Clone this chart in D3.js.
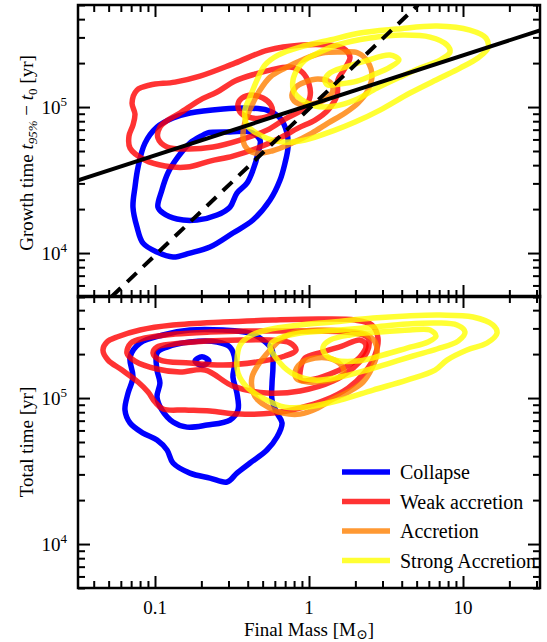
<!DOCTYPE html>
<html>
<head>
<meta charset="utf-8">
<script src="https://cdn.jsdelivr.net/npm/d3@7"></script>
<style>
  body { margin: 0; background: #fff; }
  text { font-family: "Liberation Serif", "DejaVu Serif", serif; fill: #000; }
</style>
</head>
<body>
<div id="chart"></div>
<script>
// categories of the legend
const categories = ["Collapse", "Weak accretion", "Accretion", "Strong Accretion"];

// contour vertices, as [log10(M / Msun), log10(t / yr)]
// top panel : growth time t95% - t0
const collapseGrowth = [
  [[-1.065,4.753],[-0.987,4.863],[-0.883,4.925],[-0.773,4.959],[-0.558,4.986],[-0.403,4.993],[-0.273,4.979],[-0.188,4.925],[-0.143,4.822],[-0.136,4.726],[-0.156,4.616],[-0.188,4.5],[-0.253,4.363],[-0.364,4.226],[-0.494,4.137],[-0.643,4.041],[-0.773,4.0],[-0.883,3.973],[-0.987,4.007],[-1.078,4.068],[-1.117,4.178],[-1.143,4.315],[-1.13,4.452],[-1.11,4.589]],
  [[-0.662,4.822],[-0.513,4.829],[-0.383,4.829],[-0.318,4.774],[-0.331,4.685],[-0.364,4.568],[-0.403,4.479],[-0.468,4.411],[-0.513,4.315],[-0.597,4.26],[-0.727,4.226],[-0.857,4.233],[-0.948,4.274],[-0.981,4.315],[-0.955,4.432],[-0.916,4.548],[-0.851,4.658],[-0.773,4.753],[-0.688,4.808]]
];
const weakGrowth = [
  [[-1.149,5.027],[-1.117,5.116],[-1.032,5.151],[-0.87,5.171],[-0.708,5.212],[-0.481,5.301],[-0.266,5.39],[-0.045,5.425],[0.123,5.425],[0.221,5.404],[0.266,5.342],[0.234,5.267],[0.188,5.185],[0.182,5.082],[0.123,4.979],[0.039,4.911],[-0.071,4.856],[-0.188,4.788],[-0.318,4.726],[-0.494,4.664],[-0.643,4.63],[-0.792,4.589],[-0.935,4.596],[-1.065,4.637],[-1.162,4.719],[-1.169,4.801],[-1.143,4.877],[-1.13,4.952]],
  [[-0.981,4.788],[-0.968,4.863],[-0.916,4.911],[-0.838,4.959],[-0.708,5.048],[-0.597,5.103],[-0.481,5.178],[-0.351,5.226],[-0.253,5.253],[-0.123,5.274],[-0.045,5.24],[0.0,5.158],[0.006,5.068],[-0.039,4.986],[-0.156,4.918],[-0.273,4.842],[-0.448,4.774],[-0.623,4.726],[-0.792,4.712],[-0.922,4.726]],
  [[-0.461,5.021],[-0.435,5.062],[-0.37,5.082],[-0.299,5.062],[-0.247,5.014],[-0.24,4.959],[-0.305,4.925],[-0.396,4.932],[-0.448,4.966]]
];
const accretionGrowth = [
  [[-0.429,4.808],[-0.416,4.897],[-0.37,5.014],[-0.318,5.116],[-0.253,5.205],[-0.156,5.267],[-0.045,5.322],[0.084,5.37],[0.214,5.377],[0.318,5.37],[0.383,5.308],[0.409,5.212],[0.383,5.116],[0.318,5.027],[0.234,4.959],[0.123,4.89],[0.019,4.822],[-0.11,4.753],[-0.24,4.699],[-0.351,4.685],[-0.416,4.733]],
  [[-0.11,5.068],[-0.084,5.137],[-0.026,5.171],[0.058,5.192],[0.136,5.171],[0.156,5.116],[0.11,5.055],[0.019,5.021],[-0.065,5.021]]
];
const strongGrowth = [
  [[-0.416,4.979],[-0.383,5.068],[-0.338,5.185],[-0.286,5.288],[-0.201,5.356],[-0.058,5.411],[0.136,5.459],[0.331,5.507],[0.571,5.534],[0.831,5.555],[1.045,5.527],[1.149,5.473],[1.162,5.404],[1.097,5.336],[0.981,5.267],[0.851,5.199],[0.656,5.096],[0.461,4.979],[0.299,4.897],[0.169,4.842],[-0.026,4.774],[-0.169,4.76],[-0.305,4.801],[-0.403,4.877]],
  [[-0.104,5.185],[-0.071,5.267],[-0.026,5.322],[0.071,5.377],[0.182,5.425],[0.396,5.473],[0.61,5.493],[0.786,5.479],[0.896,5.425],[0.916,5.377],[0.851,5.322],[0.721,5.267],[0.591,5.205],[0.442,5.13],[0.299,5.048],[0.169,5.007],[0.039,5.007],[-0.045,5.048],[-0.097,5.103]],
  [[0.104,5.185],[0.136,5.233],[0.234,5.274],[0.364,5.315],[0.526,5.356],[0.584,5.322],[0.526,5.274],[0.429,5.226],[0.312,5.178],[0.201,5.158],[0.123,5.151]]
];

// bottom panel : total time
const collapseTotal = [
  [[-1.097,5.377],[-1.162,5.281],[-1.143,5.144],[-1.175,5.034],[-1.195,4.918],[-1.162,4.829],[-1.078,4.76],[-0.987,4.712],[-0.922,4.644],[-0.883,4.555],[-0.773,4.486],[-0.643,4.452],[-0.532,4.425],[-0.468,4.486],[-0.383,4.555],[-0.273,4.644],[-0.208,4.733],[-0.175,4.829],[-0.208,4.897],[-0.24,4.986],[-0.24,5.103],[-0.234,5.212],[-0.24,5.329],[-0.299,5.397],[-0.383,5.445],[-0.558,5.466],[-0.773,5.466],[-0.948,5.432]],
  [[-0.987,5.308],[-0.922,5.349],[-0.773,5.384],[-0.597,5.384],[-0.513,5.349],[-0.481,5.26],[-0.494,5.144],[-0.468,5.034],[-0.461,4.918],[-0.513,4.849],[-0.662,4.815],[-0.792,4.801],[-0.883,4.836],[-0.955,4.918],[-0.987,5.007],[-0.968,5.103],[-0.987,5.192]],
  [[-0.74,5.253],[-0.695,5.283],[-0.65,5.253],[-0.695,5.223]]
];
const weakTotal = [
  [[-1.338,5.329],[-1.312,5.384],[-1.247,5.418],[-1.097,5.466],[-0.883,5.5],[-0.558,5.521],[-0.234,5.534],[0.071,5.541],[0.299,5.534],[0.409,5.5],[0.448,5.411],[0.429,5.295],[0.364,5.178],[0.253,5.068],[0.104,4.986],[-0.058,4.932],[-0.234,4.897],[-0.448,4.89],[-0.643,4.911],[-0.805,4.918],[-0.948,4.925],[-1.0,4.973],[-1.045,5.041],[-1.11,5.11],[-1.214,5.192],[-1.305,5.26]],
  [[-1.182,5.308],[-1.156,5.377],[-1.065,5.411],[-0.87,5.438],[-0.643,5.452],[-0.416,5.459],[-0.188,5.459],[0.071,5.459],[0.299,5.445],[0.383,5.411],[0.377,5.315],[0.286,5.205],[0.156,5.116],[-0.058,5.048],[-0.273,5.034],[-0.494,5.082],[-0.675,5.192],[-0.838,5.178],[-0.987,5.199],[-1.13,5.253]],
  [[-1.013,5.308],[-0.987,5.349],[-0.883,5.37],[-0.662,5.39],[-0.448,5.397],[-0.253,5.397],[-0.123,5.377],[-0.084,5.329],[-0.156,5.288],[-0.338,5.247],[-0.558,5.226],[-0.773,5.24],[-0.968,5.26]],
  [[-0.058,5.178],[-0.026,5.274],[0.084,5.315],[0.214,5.356],[0.331,5.397],[0.37,5.363],[0.331,5.281],[0.234,5.212],[0.136,5.164],[0.006,5.123],[-0.052,5.123]]
];
const accretionTotal = [
  [[-0.364,5.041],[-0.37,5.144],[-0.331,5.226],[-0.253,5.329],[-0.188,5.397],[-0.11,5.445],[0.058,5.466],[0.234,5.459],[0.364,5.438],[0.429,5.384],[0.442,5.308],[0.409,5.205],[0.351,5.11],[0.266,5.048],[0.156,4.993],[0.058,4.932],[-0.058,4.89],[-0.169,4.897],[-0.266,4.938],[-0.331,4.986]],
  [[-0.091,5.171],[-0.052,5.24],[0.039,5.274],[0.123,5.274],[0.195,5.24],[0.227,5.185],[0.188,5.137],[0.104,5.116],[-0.006,5.11],[-0.078,5.13]]
];
const strongTotal = [
  [[-0.468,5.26],[-0.448,5.363],[-0.383,5.425],[-0.273,5.466],[-0.058,5.5],[0.156,5.521],[0.416,5.548],[0.636,5.562],[0.851,5.568],[1.065,5.555],[1.195,5.5],[1.221,5.445],[1.156,5.377],[1.026,5.329],[0.896,5.26],[0.818,5.192],[0.636,5.123],[0.416,5.055],[0.201,4.986],[-0.013,4.938],[-0.156,4.938],[-0.299,5.0],[-0.403,5.075],[-0.461,5.171]],
  [[-0.253,5.363],[-0.188,5.411],[-0.058,5.445],[0.201,5.466],[0.416,5.486],[0.636,5.507],[0.831,5.514],[0.961,5.5],[1.013,5.452],[0.968,5.39],[0.831,5.336],[0.675,5.288],[0.526,5.24],[0.377,5.192],[0.201,5.144],[0.039,5.123],[-0.091,5.158],[-0.188,5.24]],
  [[0.091,5.349],[0.136,5.397],[0.266,5.432],[0.461,5.452],[0.656,5.466],[0.786,5.466],[0.825,5.425],[0.773,5.384],[0.636,5.342],[0.481,5.295],[0.312,5.253],[0.169,5.26],[0.104,5.301]]
];

// reference lines of the top panel, [M, t] end points
const fitLine = [[0.0316, 3.15e4], [31.6, 3.35e5]];
const linearLine = [[0.052, 5e3], [5.1, 5e5]];

// axes
const massDomain = [Math.pow(10, -1.5), Math.pow(10, 1.5)];
const timeDomain = [5e3, 5e5];
const xMajor = [0.1, 1, 10];
const xLabels = ["0.1", "1", "10"];
const yMajor = [1e4, 1e5];
const yExponents = ["4", "5"];

// ------------ styles ------------
const colors = ["#0000ff", "#ff0000", "#ff8000", "#ffff00"];
const opacity = [1, 0.8, 0.8, 0.8];
const W = 547, H = 642;
const left = 78, right = 540;

const x = d3.scaleLog().domain(massDomain).range([left, right]);
const yTop = d3.scaleLog().domain(timeDomain).range([297, 5]);
const yBot = d3.scaleLog().domain(timeDomain).range([588, 296]);

const svg = d3.select("#chart").append("svg").attr("width", W).attr("height", H);
svg.append("rect").attr("width", W).attr("height", H).attr("fill", "#fff");

const defs = svg.append("defs");
function addClip(id, y) {
  defs.append("clipPath").attr("id", id).append("rect")
    .attr("x", left).attr("y", y.range()[1])
    .attr("width", right - left).attr("height", y.range()[0] - y.range()[1]);
}
addClip("clipTop", yTop);
addClip("clipBot", yBot);

function contourPath(y) {
  return d3.line()
    .x((d) => x(Math.pow(10, d[0])))
    .y((d) => y(Math.pow(10, d[1])))
    .curve(d3.curveCatmullRomClosed.alpha(0.5));
}

function drawContours(g, y, sets) {
  sets.forEach(function (levels, i) {
    g.selectAll(null)
      .data(levels)
      .enter()
      .append("path")
      .attr("d", contourPath(y))
      .attr("fill", "none")
      .attr("stroke", colors[i])
      .attr("stroke-opacity", opacity[i])
      .attr("stroke-width", 5.5)
      .attr("stroke-linejoin", "round");
  });
}

const gTop = svg.append("g").attr("clip-path", "url(#clipTop)");
drawContours(gTop, yTop, [collapseGrowth, weakGrowth, accretionGrowth, strongGrowth]);

const refLine = d3.line().x((d) => x(d[0])).y((d) => yTop(d[1]));
gTop.append("path").attr("d", refLine(fitLine))
  .attr("fill", "none").attr("stroke", "#000").attr("stroke-width", 4);
gTop.append("path").attr("d", refLine(linearLine))
  .attr("fill", "none").attr("stroke", "#000").attr("stroke-width", 4)
  .attr("stroke-dasharray", "13,9");

const gBot = svg.append("g").attr("clip-path", "url(#clipBot)");
drawContours(gBot, yBot, [collapseTotal, weakTotal, accretionTotal, strongTotal]);

// ----------------- LEGENDE ----------------- //
const legend = gBot.selectAll(".legend")
  .data(categories)
  .enter()
  .append("g")
  .attr("class", "legend")
  .attr("transform", (d, i) => "translate(342," + (472 + i * 29.5) + ")");
legend.append("line")
  .attr("x1", 0).attr("x2", 48)
  .attr("stroke", (d, i) => colors[i])
  .attr("stroke-opacity", (d, i) => opacity[i])
  .attr("stroke-width", 5.5);
legend.append("text")
  .attr("x", 58).attr("y", 7)
  .style("font-size", "20px")
  .text((d) => d);

// ----------------- AXES ----------------- //
const minorX = x.ticks().filter((v) => xMajor.indexOf(v) < 0);
function minorsOf(y) {
  return y.ticks().filter((v) => yMajor.indexOf(v) < 0);
}

function tickSet(axis, values, size, tx, ty) {
  const g = svg.append("g")
    .attr("transform", "translate(" + tx + "," + ty + ")")
    .call(axis.tickValues(values).tickSize(-size).tickFormat(""));
  g.select(".domain").remove();
  g.selectAll("line").attr("stroke", "#000").attr("stroke-width", 2);
}

[yTop, yBot].forEach(function (y) {
  const y0 = y.range()[1], y1 = y.range()[0];
  const minorY = minorsOf(y);
  tickSet(d3.axisBottom(x), xMajor, 12, 0, y1);
  tickSet(d3.axisBottom(x), minorX, 7, 0, y1);
  tickSet(d3.axisTop(x), xMajor, 12, 0, y0);
  tickSet(d3.axisTop(x), minorX, 7, 0, y0);
  tickSet(d3.axisLeft(y), yMajor, 12, left, 0);
  tickSet(d3.axisLeft(y), minorY, 7, left, 0);
  tickSet(d3.axisRight(y), yMajor, 12, right, 0);
  tickSet(d3.axisRight(y), minorY, 7, right, 0);

  svg.append("rect")
    .attr("x", left).attr("y", y0)
    .attr("width", right - left).attr("height", y1 - y0)
    .attr("fill", "none").attr("stroke", "#000").attr("stroke-width", 2.5);

  // labels 10^4, 10^5
  const lab = svg.selectAll(null)
    .data(yMajor)
    .enter()
    .append("text")
    .attr("x", left - 11)
    .attr("y", (d) => y(d) + 7)
    .attr("text-anchor", "end")
    .style("font-size", "19px");
  lab.append("tspan").text("10");
  lab.append("tspan")
    .attr("dy", -8)
    .style("font-size", "13px")
    .text((d, i) => yExponents[i]);
});

svg.selectAll(null)
  .data(xMajor)
  .enter()
  .append("text")
  .attr("x", (d) => x(d))
  .attr("y", 614)
  .attr("text-anchor", "middle")
  .style("font-size", "19px")
  .text((d, i) => xLabels[i]);

// x label
const xl = svg.append("text")
  .attr("x", (left + right) / 2).attr("y", 636)
  .attr("text-anchor", "middle")
  .style("font-size", "19px");
xl.append("tspan").text("Final Mass [M");
xl.append("tspan").attr("dy", 3).style("font-size", "14px").text("\u2299");
xl.append("tspan").attr("dy", -3).text("]");

// y labels
const yl1 = svg.append("text")
  .attr("transform", "translate(33," + (yTop(Math.sqrt(timeDomain[0] * timeDomain[1])) + 2) + ") rotate(-90)")
  .attr("text-anchor", "middle")
  .style("font-size", "19px");
yl1.append("tspan").text("Growth time ");
yl1.append("tspan").style("font-style", "italic").text("t");
yl1.append("tspan").attr("dy", 4).style("font-size", "13px").style("font-style", "italic").text("95%");
yl1.append("tspan").attr("dy", -4).text(" \u2212 ");
yl1.append("tspan").style("font-style", "italic").text("t");
yl1.append("tspan").attr("dy", 4).style("font-size", "13px").text("0");
yl1.append("tspan").attr("dy", -4).text(" [yr]");

svg.append("text")
  .attr("transform", "translate(33," + yBot(Math.sqrt(timeDomain[0] * timeDomain[1])) + ") rotate(-90)")
  .attr("text-anchor", "middle")
  .style("font-size", "19px")
  .text("Total time [yr]");
</script>
</body>
</html>
